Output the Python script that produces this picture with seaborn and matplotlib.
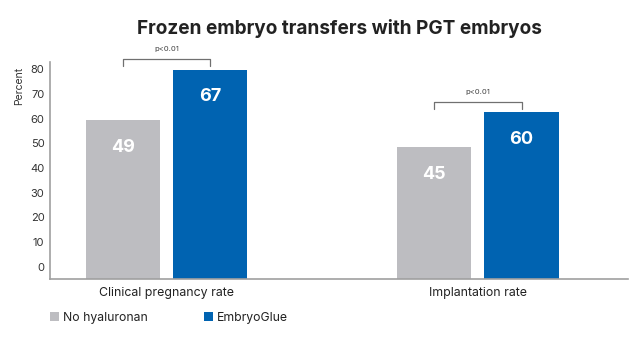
import matplotlib
matplotlib.use("Agg")
import matplotlib.pyplot as plt
from matplotlib.patches import Patch
import seaborn as sns
import pandas as pd

# ---- data ----
categories = ["Clinical pregnancy rate", "Implantation rate"]
groups = ["No hyaluronan", "EmbryoGlue"]
no_hyaluronan = [59.3, 48.4]      # bar heights as drawn on the axis
embryoglue = [79.8, 62.6]
no_hyaluronan_labels = ["49", "45"]   # printed values on bars
embryoglue_labels = ["67", "60"]
p_labels = ["p<0.01", "p<0.01"]
yticks = [0, 10, 20, 30, 40, 50, 60, 70, 80]
colors = ["#BDBDC1", "#0063B1"]

df = pd.DataFrame({
    "category": categories * 2,
    "group": [groups[0]] * 2 + [groups[1]] * 2,
    "value": no_hyaluronan + embryoglue,
})

sns.set_theme(style="white")
plt.rcParams["font.family"] = ["Inter", "DejaVu Sans"]

fig = plt.figure(figsize=(6.4, 3.5), dpi=100)
ax = fig.add_axes([50 / 640, 1 - 278.6 / 350, (628 - 50) / 640, (278.6 - 62) / 350])

sns.barplot(data=df, x="category", y="value", hue="group", order=categories,
            hue_order=groups, palette=colors, width=0.562, gap=0.15,
            saturation=1, legend=False, ax=ax)

ymin, ymax = -4.8, 82.9
ax.set_ylim(ymin, ymax)
ax.set_xlim(-0.374, 1.482)

# bars start at bottom spine
for p in ax.patches:
    top = p.get_y() + p.get_height()
    p.set_y(ymin)
    p.set_height(top - ymin)
    p.set_linewidth(0)

# value labels
bars = sorted(ax.patches, key=lambda p: p.get_x())
all_labels = [no_hyaluronan_labels[0], embryoglue_labels[0],
              no_hyaluronan_labels[1], embryoglue_labels[1]]
for p, lab in zip(bars, all_labels):
    cx = p.get_x() + p.get_width() / 2
    top = p.get_y() + p.get_height()
    ax.annotate(lab, xy=(cx, top), xytext=(0, -19.5), textcoords="offset points",
                ha="center", va="center", color="white", fontsize=13,
                fontweight="bold")

# significance brackets
for i in range(len(categories)):
    b1, b2 = bars[2 * i], bars[2 * i + 1]
    x1 = b1.get_x() + b1.get_width() / 2
    x2 = b2.get_x() + b2.get_width() / 2
    h = max(no_hyaluronan[i], embryoglue[i]) + 4.2
    ax.plot([x1, x1, x2, x2], [h - 2.8, h, h, h - 2.8], color="#707070",
            lw=0.9, clip_on=False)
    ax.annotate(p_labels[i], xy=((x1 + x2) / 2, h), xytext=(0, 5),
                textcoords="offset points", ha="center", va="bottom",
                fontsize=5.5, color="#444444", annotation_clip=False)

ax.set_yticks(yticks)
ax.set_yticklabels([str(t) for t in yticks])
ax.tick_params(axis="y", length=0, pad=4, labelsize=8, labelcolor="#333333")
ax.tick_params(axis="x", length=0, pad=6, labelsize=8.9, labelcolor="#222222")
ax.set_xlabel("")
ax.set_ylabel("")
for s in ["top", "right"]:
    ax.spines[s].set_visible(False)
for s in ["left", "bottom"]:
    ax.spines[s].set_color("#A0A0A0")
    ax.spines[s].set_linewidth(1.2)

fig.text(19 / 640, 1 - 86 / 350, "Percent", rotation=90, ha="center",
         va="center", fontsize=7.5, color="#333333")

fig.text(339 / 640, 1 - 28 / 350, "Frozen embryo transfers with PGT embryos",
         ha="center", va="center", fontsize=13.7, fontweight="bold",
         color="#222222")

handles = [Patch(facecolor=c, edgecolor="none") for c in colors]
fig.legend(handles, groups, loc="center left",
           bbox_to_anchor=(44 / 640, 1 - 318 / 350), ncol=2, frameon=False,
           fontsize=8.8, handlelength=0.75, handleheight=0.75,
           handletextpad=0.3, columnspacing=4.6, borderpad=0,
           labelcolor="#222222")

fig.savefig("out.png", dpi=100)
